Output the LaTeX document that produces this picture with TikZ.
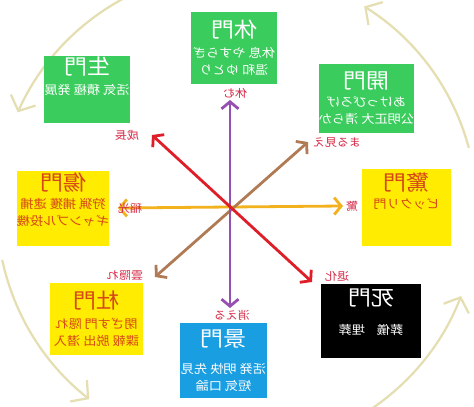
\documentclass[tikz,border=0pt]{standalone}
\usepackage{fontspec}
\newfontfamily\jp[FakeStretch=1.1]{Noto Sans CJK JP}
\usetikzlibrary{arrows.meta}

\definecolor{gateGreen}{RGB}{58,204,92}
\definecolor{gateYellow}{RGB}{255,236,0}
\definecolor{gateBlue}{RGB}{26,158,226}
\definecolor{gateText}{RGB}{214,72,24}
\definecolor{labelRed}{RGB}{214,44,72}
\definecolor{ringKhaki}{RGB}{228,222,176}
\definecolor{axisPurple}{RGB}{150,80,176}
\definecolor{axisRed}{RGB}{222,30,40}
\definecolor{axisBrown}{RGB}{176,122,84}
\definecolor{axisOrange}{RGB}{242,178,30}

\newcommand\montitle{\fontsize{21}{24}\selectfont}
\newcommand\monbody{\fontsize{12}{17}\selectfont}

\begin{document}
\begin{tikzpicture}[
        x=1pt, y=1pt,
        gate/.style={
            rectangle,
            inner sep=0pt,
            align=center,
            xscale=-1,
            font=\jp\monbody
        },
        greengate/.style={gate, fill=gateGreen, text=white},
        yellowgate/.style={gate, fill=gateYellow, text=gateText},
        bluegate/.style={gate, fill=gateBlue, text=white},
        blackgate/.style={gate, fill=black, text=white},
        lbl/.style={
            inner sep=0pt,
            xscale=-1,
            text=labelRed,
            font=\jp\fontsize{11}{12}\selectfont
        },
        axis/.style={
            line width=2.8pt,
            {Straight Barb[length=7pt,width=17pt]}-{Straight Barb[length=7pt,width=17pt]}
        },
        ring/.style={
            line width=2.2pt,
            ringKhaki,
            -{Straight Barb[length=12pt,width=27pt]}
        }
    ]

    \useasboundingbox (0,0) rectangle (474,407);
    \fill[white] (0,0) rectangle (474,407);
    \clip (0,0) rectangle (474,407);

    % Outer ring
    \draw[ring] (237,197) ++(115:240) arc[start angle=115, end angle=156, radius=240];
    \draw[ring] (237,197) ++(192:240) arc[start angle=192, end angle=232, radius=240];
    \draw[ring] (237,197) ++(-58:240) arc[start angle=-58, end angle=-21, radius=240];
    \draw[ring] (237,197) ++(15:240) arc[start angle=15, end angle=58, radius=240];

    % Gates
    \node[greengate, minimum width=86pt, minimum height=72pt] (kyumon) at (234,359)
        {{\montitle 休門}\\[3pt]休息 やすらぎ\\温和 ゆとり};
    \node[greengate, minimum width=84pt, minimum height=67pt] (seimon) at (87,317.5)
        {{\montitle 生門}\\[3pt]活気 積極 発展\\[10pt]\mbox{}};
    \node[greengate, minimum width=91pt, minimum height=69pt] (kaimon) at (366.5,308.5)
        {{\montitle 開門}\\[1pt]あけっぴろげ\\公明正大 清らか};
    \node[yellowgate, minimum width=88pt, minimum height=75pt] (shomon) at (63,198.5)
        {{\montitle 傷門}\\[1pt]狩猟 捕獲 逮捕\\ギャンブル投機\\[2pt]\mbox{}};
    \node[yellowgate, minimum width=89pt, minimum height=77pt] (kyomon) at (406.5,199.5)
        {{\montitle 驚門}\\[1pt]ビックリ門\\[16pt]\mbox{}};
    \node[yellowgate, minimum width=93pt, minimum height=72pt] (tomon) at (96.5,88)
        {{\montitle 杜門}\\[3pt]閉ざす門 隠れ\\諜報 脱出 潜入};
    \node[bluegate, minimum width=87pt, minimum height=75pt] (keimon) at (223.5,46.5)
        {{\montitle 景門}\\[10pt]活発 明快 先見\\短気 口論};
    \node[blackgate, minimum width=100pt, minimum height=74pt] (shimon) at (371,86)
        {{\montitle 死門}\\[12pt]葬儀\quad 埋葬\\[2pt]\mbox{}};

    % Arrow ends
    \coordinate (kyuTip) at (230,307);
    \coordinate (keiTip) at (230,99);
    \coordinate (seiTip) at (152,272);
    \coordinate (shiTip) at (312,125);
    \coordinate (kaiTip) at (308,265);
    \coordinate (toTip) at (155,130);
    \coordinate (shoTip) at (118,199);
    \coordinate (kyoTip) at (343,201);

    % Axes
    \draw[axis, axisOrange] (shoTip) -- (kyoTip);
    \draw[axis, axisBrown] (kaiTip) -- (toTip);
    \draw[axis, axisPurple] (kyuTip) -- (keiTip);
    \draw[axis, axisRed] (seiTip) -- (shiTip);

    % Labels
    \node[lbl] (yasumu) at (235,314) {休む};
    \node[lbl] (seicho) at (127,272) {成長};
    \node[lbl] (marumie) at (337,264) {まる見え};
    \node[lbl] (inabikari) at (130,199) {稲光};
    \node[lbl] (odoroki) at (352,201) {驚};
    \node[lbl] (kumogakure) at (125,132) {雲隠れ};
    \node[lbl] (kieru) at (232,92) {消える};
    \node[lbl] (taika) at (337,131) {退化};

\end{tikzpicture}
\end{document}
